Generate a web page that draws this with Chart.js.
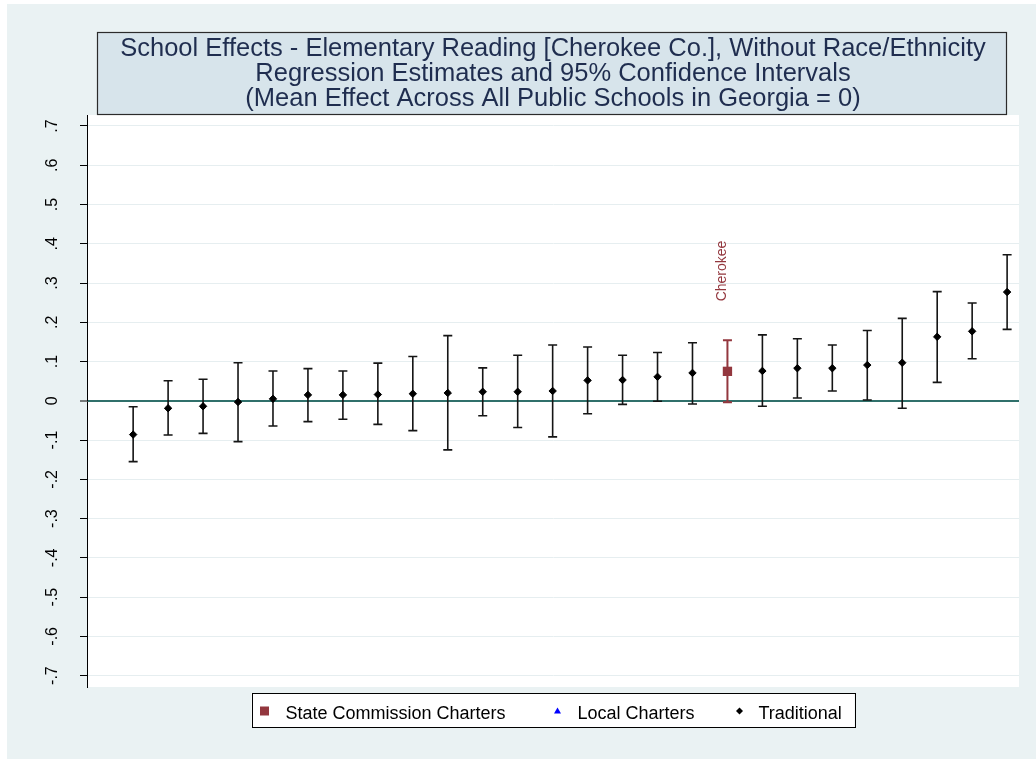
<!DOCTYPE html>
<html>
<head>
<meta charset="utf-8">
<script src="https://cdn.jsdelivr.net/npm/chart.js@4.4.1/dist/chart.umd.min.js"></script>
<style>
  html, body { margin: 0; padding: 0; background: #fff; }
  canvas { display: block; }
</style>
</head>
<body>
<canvas id="chart" width="1036" height="759"></canvas>
<script>
// School effects, sorted by estimate (rank 1 = lowest)
const schoolRank = [1, 2, 3, 4, 5, 6, 7, 8, 9, 10, 11, 12, 13, 14, 15, 16, 17, 18, 19, 20, 21, 22, 23, 24, 25, 26];
const schoolType = ['trad', 'trad', 'trad', 'trad', 'trad', 'trad', 'trad', 'trad', 'trad', 'trad', 'trad', 'trad', 'trad',
                    'trad', 'trad', 'trad', 'trad', 'state', 'trad', 'trad', 'trad', 'trad', 'trad', 'trad', 'trad', 'trad'];
const schoolName = ['', '', '', '', '', '', '', '', '', '', '', '', '', '', '', '', '', 'Cherokee', '', '', '', '', '', '', '', ''];
const estimates = [-0.086, -0.019, -0.014, -0.003, 0.005, 0.015, 0.015, 0.016, 0.018, 0.020, 0.023, 0.023, 0.025,
                   0.052, 0.053, 0.061, 0.071, 0.075, 0.076, 0.083, 0.083, 0.091, 0.097, 0.163, 0.177, 0.277];
const ciLower = [-0.155, -0.087, -0.083, -0.104, -0.064, -0.053, -0.047, -0.060, -0.076, -0.125, -0.038, -0.068, -0.092,
                 -0.033, -0.009, -0.001, -0.008, -0.004, -0.014, 0.007, 0.025, 0.002, -0.019, 0.047, 0.107, 0.182];
const ciUpper = [-0.015, 0.051, 0.055, 0.097, 0.076, 0.082, 0.076, 0.096, 0.113, 0.166, 0.084, 0.116, 0.142,
                 0.137, 0.116, 0.123, 0.148, 0.154, 0.168, 0.158, 0.142, 0.179, 0.210, 0.278, 0.249, 0.372];

const yTicks = [-0.7, -0.6, -0.5, -0.4, -0.3, -0.2, -0.1, 0, 0.1, 0.2, 0.3, 0.4, 0.5, 0.6, 0.7];
const yTickLabels = ['-.7', '-.6', '-.5', '-.4', '-.3', '-.2', '-.1', '0', '.1', '.2', '.3', '.4', '.5', '.6', '.7'];

const titleLines = [
    'School Effects - Elementary Reading [Cherokee Co.], Without Race/Ethnicity',
    'Regression Estimates and 95% Confidence Intervals',
    '(Mean Effect Across All Public Schools in Georgia = 0)'
];
const seriesOrder = ['state', 'local', 'trad'];
const seriesNames = { state: 'State Commission Charters', local: 'Local Charters', trad: 'Traditional' };

const FONT = '"Liberation Sans", Arial, Helvetica, sans-serif';
const BG = '#eaf2f3';
const TITLE_FILL = '#d7e4eb';
const TITLE_INK = '#1f2d4f';
const GRID = '#e6eef0';
const ZERO = '#30706b';
const MAROON = '#93373e';
const colorFor = { state: MAROON, local: '#0000ff', trad: '#000000' };

const datasets = seriesOrder.map(type => ({
    label: seriesNames[type],
    data: schoolRank
        .map((r, i) => ({ x: r, y: estimates[i] }))
        .filter((_, i) => schoolType[i] === type),
    pointStyle: type === 'state' ? 'rect' : type === 'local' ? 'triangle' : 'rectRot',
    pointRadius: type === 'state' ? 6.6 : 3.7,
    borderWidth: type === 'state' ? 0 : 1,
    backgroundColor: colorFor[type],
    borderColor: colorFor[type],
    showLine: false
}));

function drawMarker(ctx, type, cx, cy) {
    ctx.fillStyle = colorFor[type];
    ctx.beginPath();
    if (type === 'state') {
        ctx.rect(cx - 4.5, cy - 4.5, 9, 9);
    } else if (type === 'local') {
        ctx.moveTo(cx, cy - 3.5);
        ctx.lineTo(cx + 3.5, cy + 2.5);
        ctx.lineTo(cx - 3.5, cy + 2.5);
    } else {
        ctx.moveTo(cx, cy - 3.5);
        ctx.lineTo(cx + 3.5, cy);
        ctx.lineTo(cx, cy + 3.5);
        ctx.lineTo(cx - 3.5, cy);
    }
    ctx.closePath();
    ctx.fill();
}

const stataLook = {
    id: 'stataLook',
    beforeDraw(chart) {
        const { ctx, chartArea: a } = chart;
        ctx.save();
        ctx.fillStyle = '#ffffff';
        ctx.fillRect(0, 0, chart.width, chart.height);
        ctx.fillStyle = BG;
        ctx.fillRect(7, 4, chart.width - 7, chart.height - 4);
        ctx.fillStyle = '#ffffff';
        ctx.fillRect(a.left, a.top, a.right - a.left, a.bottom - a.top);

        // title box
        const bx = a.left + 10, bw = a.right - 13 - bx, by = a.top - 83, bh = 82;
        ctx.fillStyle = TITLE_FILL;
        ctx.fillRect(bx, by, bw, bh);
        ctx.strokeStyle = '#2b2b2b';
        ctx.lineWidth = 1.2;
        ctx.strokeRect(bx + 0.5, by + 0.5, bw, bh);
        ctx.fillStyle = TITLE_INK;
        ctx.font = '25.5px ' + FONT;
        ctx.textAlign = 'center';
        ctx.textBaseline = 'alphabetic';
        const cx = (a.left + a.right) / 2;
        titleLines.forEach((line, i) => ctx.fillText(line, cx, by + 24 + i * 25));
        ctx.restore();
    },
    beforeDatasetsDraw(chart) {
        const { ctx } = chart;
        const xs = chart.scales.x, ys = chart.scales.y;
        ctx.save();
        schoolRank.forEach((r, i) => {
            const x = xs.getPixelForValue(r);
            const y1 = ys.getPixelForValue(ciLower[i]);
            const y2 = ys.getPixelForValue(ciUpper[i]);
            const isState = schoolType[i] === 'state';
            ctx.strokeStyle = isState ? MAROON : '#151515';
            ctx.lineWidth = isState ? 2 : 1.6;
            ctx.beginPath();
            ctx.moveTo(x, y1); ctx.lineTo(x, y2);
            ctx.moveTo(x - 4.5, y1); ctx.lineTo(x + 4.5, y1);
            ctx.moveTo(x - 4.5, y2); ctx.lineTo(x + 4.5, y2);
            ctx.stroke();
        });
        ctx.restore();
    },
    afterDraw(chart) {
        const { ctx, chartArea: a } = chart;
        const xs = chart.scales.x, ys = chart.scales.y;
        ctx.save();

        // rotated y tick labels
        ctx.fillStyle = '#000';
        ctx.font = '16px ' + FONT;
        ctx.textAlign = 'center';
        ctx.textBaseline = 'alphabetic';
        ys.ticks.forEach(t => {
            const idx = yTicks.findIndex(v => Math.abs(v - t.value) < 1e-9);
            ctx.save();
            ctx.translate(a.left - 30, ys.getPixelForValue(t.value));
            ctx.rotate(-Math.PI / 2);
            ctx.fillText(yTickLabels[idx], 0, 0);
            ctx.restore();
        });

        // marker labels
        ctx.fillStyle = MAROON;
        ctx.font = '14px ' + FONT;
        ctx.textAlign = 'left';
        ctx.textBaseline = 'middle';
        schoolName.forEach((name, i) => {
            if (!name) return;
            ctx.save();
            ctx.translate(xs.getPixelForValue(schoolRank[i]) - 5, ys.getPixelForValue(estimates[i]) - 70);
            ctx.rotate(-Math.PI / 2);
            ctx.fillText(name, 0, 0);
            ctx.restore();
        });

        // legend box
        const lw = 603, lh = 34;
        const lx = (a.left + a.right) / 2 - lw / 2, ly = a.bottom + 6;
        ctx.fillStyle = '#fff';
        ctx.fillRect(lx, ly, lw, lh);
        ctx.strokeStyle = '#000';
        ctx.lineWidth = 1;
        ctx.strokeRect(Math.round(lx) + 0.5, ly + 0.5, lw, lh);
        const markerOffset = [13, 306, 488];
        const textOffset = [34, 326, 507];
        ctx.font = '18px ' + FONT;
        ctx.textAlign = 'left';
        ctx.textBaseline = 'alphabetic';
        seriesOrder.forEach((type, k) => {
            drawMarker(ctx, type, lx + markerOffset[k], ly + 18);
            ctx.fillStyle = '#000';
            ctx.fillText(seriesNames[type], lx + textOffset[k], ly + 25.5);
        });
        ctx.restore();
    }
};

new Chart(document.getElementById('chart'), {
    type: 'scatter',
    data: { datasets },
    options: {
        responsive: false,
        animation: false,
        events: [],
        layout: { padding: { left: 7, right: 17, top: 115, bottom: 72 } },
        plugins: {
            legend: { display: false },
            title: { display: false },
            tooltip: { enabled: false }
        },
        scales: {
            x: { type: 'linear', min: -0.32, max: 26.34, display: false },
            y: {
                type: 'linear',
                min: -0.729,
                max: 0.728,
                afterBuildTicks: s => { s.ticks = yTicks.map(v => ({ value: v })); },
                afterFit: s => { s.width = 80; },
                ticks: { display: false },
                grid: {
                    color: c => (c.tick && Math.abs(c.tick.value) < 1e-9 ? ZERO : GRID),
                    lineWidth: c => (c.tick && Math.abs(c.tick.value) < 1e-9 ? 2 : 1),
                    tickColor: '#000',
                    tickWidth: 1,
                    tickLength: 7,
                    drawTicks: true
                },
                border: { display: true, color: '#000', width: 1 }
            }
        }
    },
    plugins: [stataLook]
});
</script>
</body>
</html>
